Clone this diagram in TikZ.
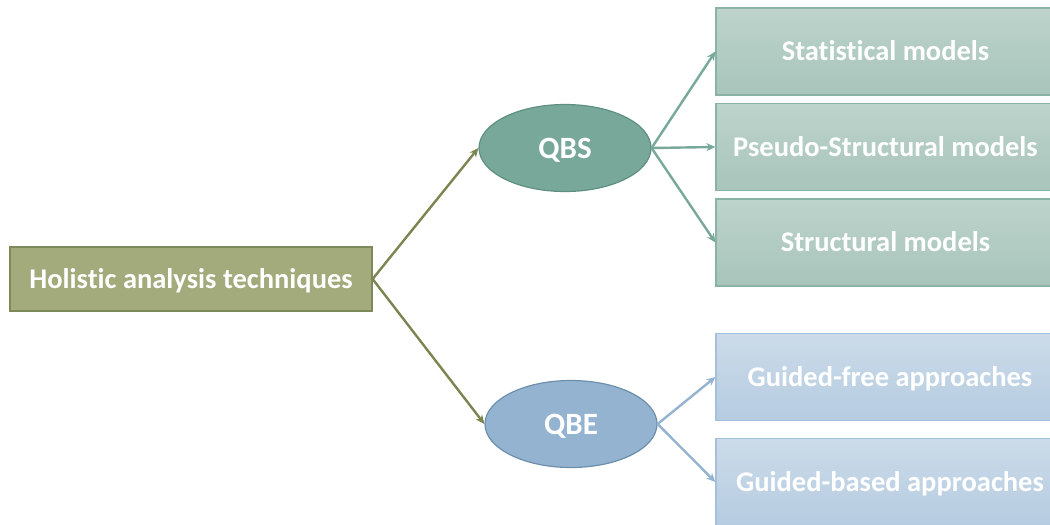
\documentclass[tikz,border=0pt]{standalone}
\usepackage{fontspec}
\setmainfont[Ligatures={NoCommon}]{Carlito}
\usetikzlibrary{arrows.meta,shapes.geometric}
\definecolor{olivefill}{HTML}{A3AA7B}
\definecolor{olivedraw}{HTML}{7E8A5A}
\definecolor{olivearrow}{HTML}{7A8550}
\definecolor{greenfill}{HTML}{78A89A}
\definecolor{greendraw}{HTML}{5E8F80}
\definecolor{greenarrow}{HTML}{78A89A}
\definecolor{greentop}{HTML}{BDD3CB}
\definecolor{greenbot}{HTML}{A8C5BB}
\definecolor{greenbox}{HTML}{8AB3A6}
\definecolor{bluefill}{HTML}{93B3D1}
\definecolor{bluedraw}{HTML}{6D8FAE}
\definecolor{bluearrow}{HTML}{93B3D1}
\definecolor{bluetop}{HTML}{CBDBE9}
\definecolor{bluebot}{HTML}{B6CCE1}
\definecolor{bluebox}{HTML}{A5C0DA}
\tikzset{
  txt/.style={text=white, font=\fontsize{28.5}{32}\selectfont\bfseries, inner sep=0pt, text height=18.4pt, text depth=0pt},
  rootbox/.style={txt, draw=olivedraw, fill=olivefill, line width=1.2pt, minimum width=362pt, minimum height=64pt},
  ell/.style={txt, ellipse, line width=1.2pt, minimum width=172pt, minimum height=87pt, font=\fontsize{31}{34}\selectfont\bfseries, text height=20pt},
  gbox/.style={txt, draw=greenbox, top color=greentop, bottom color=greenbot, line width=1.2pt, minimum width=336pt, minimum height=87pt},
  bbox/.style={txt, draw=bluebox, top color=bluetop, bottom color=bluebot, line width=1.2pt, minimum width=336pt, minimum height=87pt},
  conn/.style={line width=2.4pt, -{Stealth[length=9pt,width=8pt]}}
}
\begin{document}
\begin{tikzpicture}[x=1pt,y=-1pt]
\useasboundingbox (0,0) rectangle (1050,525);
\clip (0,0) rectangle (1050,525);
\node[rootbox] (hol) at (191,279) {Holistic analysis techniques};
\node[ell, draw=greendraw, fill=greenfill] (qbs) at (565,148) {QBS};
\node[ell, draw=bluedraw, fill=bluefill] (qbe) at (571,424) {QBE};
\node[gbox] (stat) at (884,51.5) {\hspace*{3pt}Statistical models};
\node[gbox] (pseudo) at (884,147) {\hspace*{3pt}Pseudo-Structural models};
\node[gbox] (struct) at (884,242.5) {\hspace*{3pt}Structural models};
\node[bbox] (gfree) at (884,377) {\hspace*{12pt}Guided-free approaches};
\node[bbox] (gbased) at (884,482) {\hspace*{12pt}Guided-based approaches};
\draw[conn, olivearrow] (hol.east) -- (qbs.west);
\draw[conn, olivearrow] (hol.east) -- (qbe.west);
\draw[conn, greenarrow] (qbs.east) -- (stat.west);
\draw[conn, greenarrow] (qbs.east) -- (pseudo.west);
\draw[conn, greenarrow] (qbs.east) -- (struct.west);
\draw[conn, bluearrow] (qbe.east) -- (gfree.west);
\draw[conn, bluearrow] (qbe.east) -- (gbased.west);
\end{tikzpicture}
\end{document}
